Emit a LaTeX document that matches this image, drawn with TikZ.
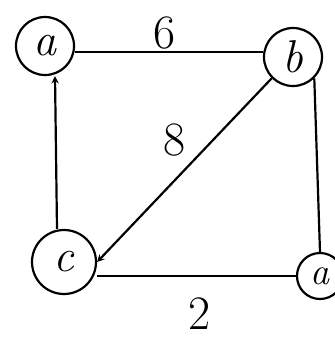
\documentclass[tikz,border=0pt]{standalone}
\usepackage{tikz}
\usetikzlibrary{arrows.meta}

\begin{document}
\begin{tikzpicture}[x=1pt, y=-1pt, >=stealth, line width=2.2pt,
    vertex/.style={draw, circle, inner sep=0pt, minimum size=58pt, font=\fontsize{46}{46}\selectfont\itshape},
    wlabel/.style={font=\fontsize{48}{48}\selectfont}]
				\useasboundingbox (0,0) rectangle (335,341);
				
				% Knoten
				\node[vertex] (a) at (45,46) {a};
				\node[vertex] (b) at (293,57) {b};
				\node[vertex, minimum size=64pt] (c) at (64,262) {c};
				\node[vertex, minimum size=46pt, font=\fontsize{38}{38}\selectfont\itshape] (d) at (320,276) {a};
				
				% Kanten
				\draw (a.east |- 0,52) -- (b.west |- 0,52);
				\draw[->] (c.north -| 57,0) -- (a.south -| 55,0);
				\draw[->] (b.south west) -- (c.east);
				\draw (c.east |- 0,276) -- (d.west);
				\draw (b.south east) -- (d.north);
				
				% Gewichte
				\node[wlabel] (w6) at (165,33) {6};
				\node[wlabel] (w8) at (175,140) {8};
				\node[wlabel] (w2) at (200,314) {2};
			\end{tikzpicture}
\end{document}
